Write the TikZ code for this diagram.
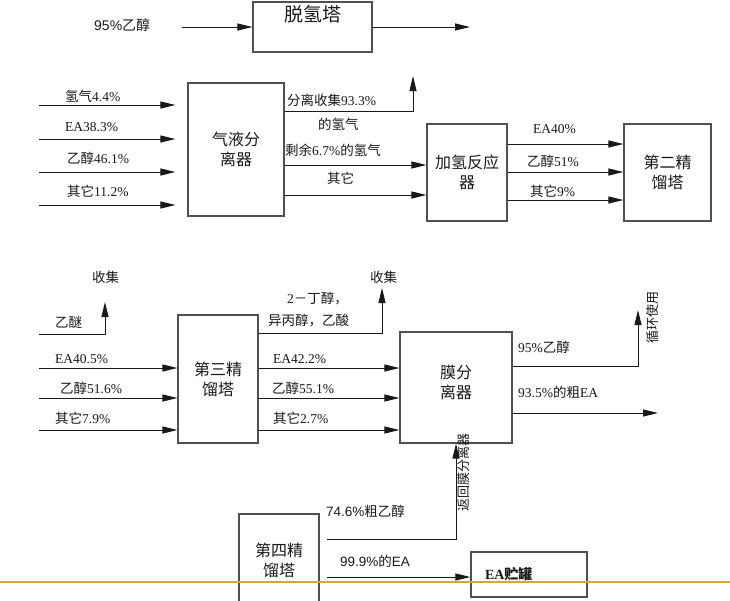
\documentclass[tikz,border=0pt]{standalone}
\usepackage{fontspec}
\setmainfont{Liberation Serif}
\setsansfont{Liberation Sans}
\newfontfamily\zhfont{Noto Sans CJK SC}
\newcommand{\zh}[1]{{\zhfont #1}}
\usetikzlibrary{
    arrows.meta,
    positioning
}
\definecolor{ink}{RGB}{25,25,25}
\definecolor{boxline}{RGB}{80,80,80}
\definecolor{ruleline}{RGB}{214,168,50}
\tikzset{
    vessel/.style={
        rectangle,
        draw=boxline,
        line width=1.2pt,
        fill=white,
        align=center,
        inner sep=2pt,
        text=ink,
        font=\zhfont\fontsize{16}{20}\selectfont
    },
    flowarrow/.style={
        -{Triangle[length=15pt,width=7pt]},
        draw=ink,
        line width=1pt
    },
    streamlabel/.style={
        anchor=west,
        inner sep=0pt,
        text=ink,
        font=\fontsize{13.5}{15}\selectfont
    },
    vlabel/.style={
        streamlabel,
        anchor=center,
        rotate=90,
        font=\zhfont\fontsize{13}{15}\selectfont
    }
}

\begin{document}
\begin{tikzpicture}[x=1pt, y=-1pt]
\useasboundingbox (0,0) rectangle (730,600);
\fill[white] (0,0) rectangle (730,600);
\clip (0,0) rectangle (730,600);

% Units
\node[vessel, minimum width=119pt, minimum height=50pt, inner ysep=3pt,
      text height=16pt, text depth=28pt, font=\zhfont\fontsize{19}{22}\selectfont]
      (dehydro) at (312.5,27) {脱氢塔};
\node[vessel, minimum width=96pt, minimum height=133pt] (gasliq) at (236,149.5) {气液分\\离器};
\node[vessel, minimum width=80pt, minimum height=97pt] (hydro) at (467,172.5) {加氢反应\\器};
\node[vessel, minimum width=87pt, minimum height=97pt] (second) at (667.5,172.5) {第二精\\馏塔};
\node[vessel, minimum width=80pt, minimum height=128pt] (third) at (218,379) {第三精\\馏塔};
\node[vessel, minimum width=112pt, minimum height=111pt, text depth=12pt] (membrane) at (456,387.5) {膜分\\离器};
\node[vessel, minimum width=80pt, minimum height=92pt] (fourth) at (279,560) {第四精\\馏塔};
\node[vessel, minimum width=116pt, minimum height=45pt, text width=88pt, inner xsep=14pt,
      align=left, font=\bfseries\fontsize{14}{16}\selectfont]
      (tank) at (529,574.5) {EA\zh{贮罐}};

% Dehydrogenation
\coordinate (ethin) at (182,27);
\coordinate (dehout) at (470,27);
\draw[flowarrow] (ethin) -- (ethin -| dehydro.west);
\draw[flowarrow] (dehydro.east |- dehout) -- (dehout);
\node[streamlabel, font=\sffamily\fontsize{14}{16}\selectfont] (ethlbl) at (94,25) {95\%\zh{乙醇}};

% Gas-liquid separator feeds
\coordinate (gasliqin) at ([xshift=-12pt]gasliq.west);
\foreach \y [count=\i] in {105,139,172,205} {
    \coordinate (gin\i) at (39,\y);
    \draw[flowarrow] (gin\i) -- (gin\i -| gasliqin);
}
\node[streamlabel] (gl1) at (65,96) {\zh{氢气}4.4\%};
\node[streamlabel] (gl2) at (65,127) {EA38.3\%};
\node[streamlabel] (gl3) at (67,158) {\zh{乙醇}46.1\%};
\node[streamlabel] (gl4) at (67,191) {\zh{其它}11.2\%};

% Gas-liquid separator products
\coordinate (h2turn) at (413,111);
\coordinate (h2out) at (413,76);
\coordinate (hin1) at (427,165);
\coordinate (hin2) at (427,195);
\draw[flowarrow] (gasliq.east |- h2turn) -- (h2turn) -- (h2out);
\draw[flowarrow] (gasliq.east |- hin1) -- (hydro.west |- hin1);
\draw[flowarrow] (gasliq.east |- hin2) -- (hydro.west |- hin2);
\node[streamlabel] (h2a) at (287,100) {\zh{分离收集}93.3\%};
\node[streamlabel] (h2b) at (318,124) {\zh{的氢气}};
\node[streamlabel] (h2c) at (285,150) {\zh{剩余}6.7\%\zh{的氢气}};
\node[streamlabel] (h2d) at (327,178) {\zh{其它}};

% Hydrogenation reactor to second column
\foreach \y [count=\i] in {144,172,200} {
    \coordinate (hs\i) at (560,\y);
    \draw[flowarrow] (hydro.east |- hs\i) -- (second.west |- hs\i);
}
\node[streamlabel] (hl1) at (533,129) {EA40\%};
\node[streamlabel] (hl2) at (527,161) {\zh{乙醇}51\%};
\node[streamlabel] (hl3) at (530,191) {\zh{其它}9\%};

% Third column
\coordinate (ethertail) at (39,334);
\coordinate (etherup) at (105,302);
\draw[flowarrow] (ethertail) -- (etherup |- ethertail) -- (etherup);
\node[streamlabel] (col1) at (92,277) {\zh{收集}};
\node[streamlabel] (ether) at (55,322) {\zh{乙醚}};
\foreach \y [count=\i] in {368,398,430} {
    \coordinate (tin\i) at (39,\y);
    \draw[flowarrow] (tin\i) -- (tin\i -| third.west);
    \draw[flowarrow] (third.east |- tin\i) -- (membrane.west |- tin\i);
}
\node[streamlabel] (tl1) at (55,359) {EA40.5\%};
\node[streamlabel] (tl2) at (60,388) {\zh{乙醇}51.6\%};
\node[streamlabel] (tl3) at (55,418) {\zh{其它}7.9\%};
\coordinate (byturn) at (382,333);
\coordinate (byout) at (382,288);
\draw[flowarrow] (third.east |- byturn) -- (byturn) -- (byout);
\node[streamlabel] (col2) at (370,277) {\zh{收集}};
\node[streamlabel] (by1) at (287,299) {2\zh{－丁醇，}};
\node[streamlabel] (by2) at (268,321) {\zh{异丙醇，乙酸}};
\node[streamlabel] (ml1) at (273,359) {EA42.2\%};
\node[streamlabel] (ml2) at (272,388) {\zh{乙醇}55.1\%};
\node[streamlabel] (ml3) at (273,418) {\zh{其它}2.7\%};

% Membrane separator products
\coordinate (recturn) at (638,366);
\coordinate (recout) at (638,310);
\coordinate (crudeout) at (658,413);
\draw[flowarrow] (membrane.east |- recturn) -- (recturn) -- (recout);
\draw[flowarrow] (membrane.east |- crudeout) -- (crudeout);
\node[streamlabel] (rec) at (518,347) {95\%\zh{乙醇}};
\node[vlabel] (reuse) at (653,317) {循环使用};
\node[streamlabel] (crude) at (518,392) {93.5\%\zh{的粗}EA};

% Fourth column
\coordinate (fourthout) at ([xshift=7pt]fourth.east);
\coordinate (retturn) at (456,539);
\coordinate (tankin) at (470,577);
\draw[flowarrow] (fourthout |- retturn) -- (retturn) -- (retturn |- membrane.south);
\draw[flowarrow] (fourthout |- tankin) -- (tank.west |- tankin);
\node[vlabel] (back) at (464,472) {返回膜分离器};
\node[streamlabel, font=\sffamily\fontsize{13.5}{15}\selectfont] (rough) at (326,511) {74.6\%\zh{粗乙醇}};
\node[streamlabel, font=\sffamily\fontsize{13.5}{15}\selectfont] (pure) at (340,561) {99.9\%\zh{的}EA};

\draw[ruleline, line width=1.6pt] (0,582) -- (730,582);
\end{tikzpicture}
\end{document}
